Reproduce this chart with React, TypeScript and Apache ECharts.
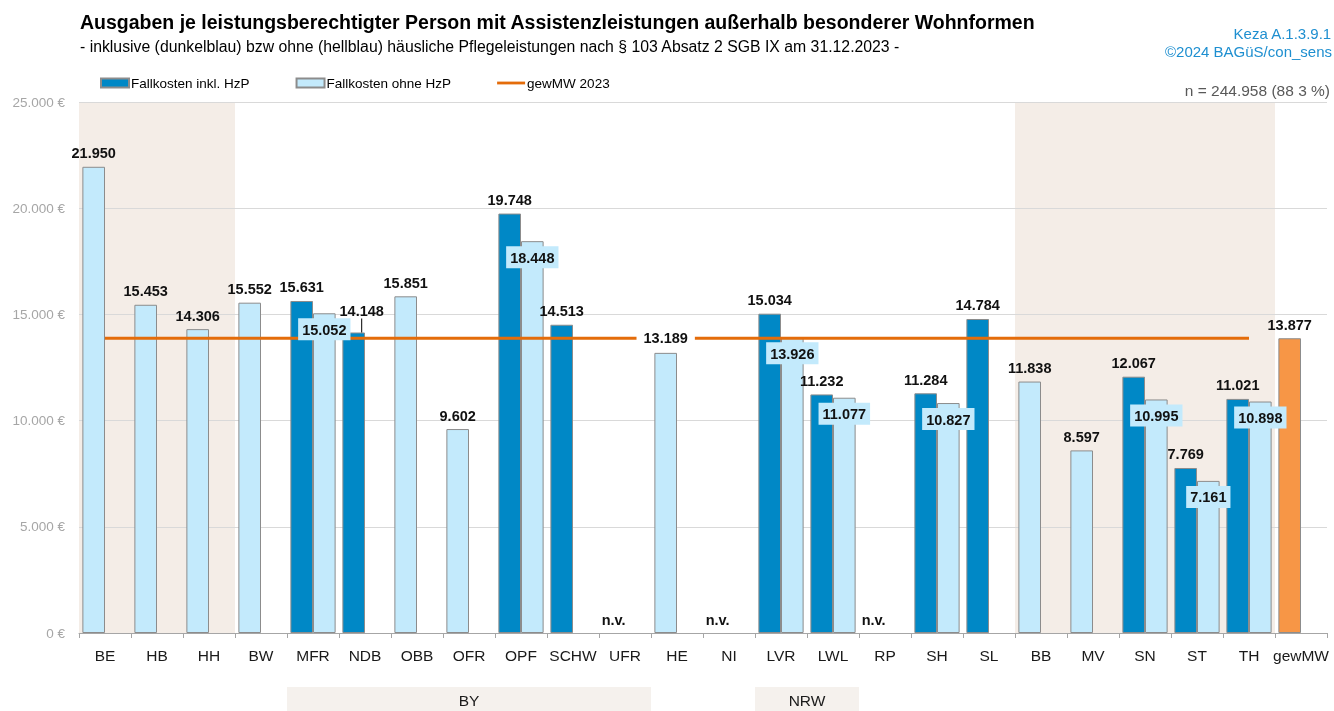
import React, { useEffect, useRef } from 'react';
import * as echarts from 'echarts';

const categories = ['BE', 'HB', 'HH', 'BW', 'MFR', 'NDB', 'OBB', 'OFR', 'OPF', 'SCHW', 'UFR', 'HE', 'NI', 'LVR', 'LWL', 'RP', 'SH', 'SL', 'BB', 'MV', 'SN', 'ST', 'TH', 'gewMW'];
const inklHzP: (number | null)[] = [null, null, null, null, 15631, 14148, null, null, 19748, 14513, null, null, null, 15034, 11232, null, 11284, 14784, null, null, 12067, 7769, 11021, null];
const ohneHzP: (number | null)[] = [21950, 15453, 14306, 15552, 15052, null, 15851, 9602, 18448, null, null, 13189, null, 13926, 11077, null, 10827, null, 11838, 8597, 10995, 7161, 10898, null];
const notAvailable = ['UFR', 'NI', 'RP'];
const averageCategory = 'gewMW';
const gewMW2023 = 13877;
const shadedCategories = ['BE', 'HB', 'HH', 'BB', 'MV', 'SN', 'ST', 'TH'];
const groupNames = ['BY', 'NRW'];
const groupMembers = [['MFR', 'NDB', 'OBB', 'OFR', 'OPF', 'SCHW', 'UFR'], ['LVR', 'LWL']];
const yMin = 0;
const yMax = 25000;
const yStep = 5000;

const FONT = '"Liberation Sans Narrow", "Arial Narrow", "Liberation Sans", Arial, sans-serif';
const DARK = '#0088c6';
const LIGHT = '#c3eafc';
const BORDER = '#8c8c8c';
const ORANGE_BAR = '#f79646';
const ORANGE_LINE = '#e46c0a';
const LABEL_SIZE = 14.5;

const fmt = (v: number) => String(v).replace(/\B(?=(\d{3})+(?!\d))/g, '.');

export default function App() {
  const ref = useRef<HTMLDivElement>(null);
  useEffect(() => {
    if (!ref.current) return;
    const chart = echarts.init(ref.current, undefined, { renderer: 'svg' });

    // bar layout: left slot = inkl. HzP, or the only available value; right slot = ohne HzP next to inkl.
    const leftSlot = categories.map((c, i) => {
      if (c === averageCategory) return { value: gewMW2023, itemStyle: { color: ORANGE_BAR } };
      if (inklHzP[i] != null) return { value: inklHzP[i] };
      if (ohneHzP[i] != null) return { value: ohneHzP[i], itemStyle: { color: LIGHT } };
      if (notAvailable.includes(c)) return { value: 0, nv: true, itemStyle: { borderWidth: 0 } };
      return null;
    });
    const rightSlot = categories.map((c, i) => (inklHzP[i] != null ? ohneHzP[i] : null));

    const leftLabels = leftSlot.map((d, i) => {
      if (d == null) return null;
      const item: any = { value: d.value, nv: (d as any).nv };
      if (categories[i] === 'HE') item.label = { backgroundColor: '#ffffff', padding: [2, 7, 1, 7] };
      if (categories[i] === 'NDB') item.labelLine = { show: true, lineStyle: { color: '#000', width: 1 } };
      return item;
    });

    const avgLine = categories.map((c) => (c === averageCategory ? null : gewMW2023));
    const shaded = categories.map((c) => (shadedCategories.includes(c) ? yMax : null));

    const groupBand = categories.map((c) => {
      const gi = groupMembers.findIndex((m) => m.includes(c));
      if (gi < 0) return null;
      const m = groupMembers[gi];
      const labelIdx = Math.floor((m.length - 1) / 2);
      if (m[labelIdx] === c) {
        return {
          value: 1,
          label: {
            show: true,
            formatter: groupNames[gi],
            position: 'inside',
            offset: [m.length % 2 === 0 ? 26 : 0, 1],
          },
        };
      }
      return 1;
    });

    const barLayout = { barGap: 0, barCategoryGap: '13%' };
    const transparent = { color: 'rgba(0,0,0,0)', borderWidth: 0 };

    const option: any = {
      animation: false,
      textStyle: { fontFamily: FONT },
      title: {
        left: 80,
        top: 12,
        padding: 0,
        text: 'Ausgaben je leistungsberechtigter Person mit Assistenzleistungen außerhalb besonderer Wohnformen',
        subtext: '- inklusive (dunkelblau) bzw ohne (hellblau) häusliche Pflegeleistungen nach § 103 Absatz 2 SGB IX am 31.12.2023 -',
        itemGap: 6,
        textStyle: { fontFamily: FONT, fontWeight: 'bold', fontSize: 19.5, color: '#000' },
        subtextStyle: { fontFamily: FONT, fontSize: 15.8, color: '#000' },
      },
      graphic: [
        {
          type: 'text',
          right: 2,
          top: 26,
          style: { text: 'Keza A.1.3.9.1', fill: '#1e8fd0', font: `15px ${FONT}` },
        },
        {
          type: 'text',
          right: 2,
          top: 44,
          style: { text: '©2024 BAGüS/con_sens', fill: '#1e8fd0', font: `15px ${FONT}` },
        },
        {
          type: 'text',
          right: 4,
          top: 82,
          style: { text: 'n = 244.958 (88 3 %)', fill: '#595959', font: `15.5px ${FONT}` },
        },
      ],
      legend: {
        left: 100,
        top: 76,
        padding: 0,
        itemWidth: 28,
        itemHeight: 9,
        itemGap: 46,
        textStyle: { fontFamily: FONT, fontSize: 13.5, color: '#000', padding: [0, 0, 0, -3] },
        data: [
          { name: 'Fallkosten inkl. HzP', icon: 'rect' },
          { name: 'Fallkosten ohne HzP', icon: 'rect' },
          { name: 'gewMW 2023', icon: 'path://M0,0L30,0L30,3L0,3Z', itemStyle: { color: ORANGE_LINE, borderWidth: 0 } },
        ],
      },
      grid: [
        { left: 79, right: 7, top: 102, bottom: 78, containLabel: false },
        { left: 79, right: 7, top: 687, bottom: 0, containLabel: false },
      ],
      xAxis: [
        {
          type: 'category',
          data: categories,
          gridIndex: 0,
          axisLine: { lineStyle: { color: '#a6a6a6', width: 1 } },
          axisTick: { show: true, length: 5, lineStyle: { color: '#a6a6a6' } },
          axisLabel: { interval: 0, fontFamily: FONT, fontSize: 15.5, color: '#1a1a1a', margin: 14 },
        },
        { type: 'category', data: categories, gridIndex: 0, show: false },
        { type: 'category', data: categories, gridIndex: 1, show: false },
        { type: 'category', data: categories, gridIndex: 0, show: false },
      ],
      yAxis: [
        {
          type: 'value',
          gridIndex: 0,
          min: yMin,
          max: yMax,
          interval: yStep,
          axisLine: { show: false },
          axisTick: { show: false },
          splitLine: { lineStyle: { color: '#d9d9d9', width: 1 } },
          axisLabel: {
            fontFamily: FONT,
            fontSize: 13.5,
            color: '#a6a6a6',
            margin: 14,
            formatter: (v: number) => `${fmt(v)} €`,
          },
        },
        { type: 'value', gridIndex: 1, min: 0, max: 1, show: false },
      ],
      series: [
        {
          name: 'Shaded',
          type: 'bar',
          xAxisIndex: 1,
          yAxisIndex: 0,
          z: -1,
          silent: true,
          barCategoryGap: 0,
          itemStyle: { color: '#f4ede7' },
          data: shaded,
        },
        {
          name: 'Fallkosten inkl. HzP',
          type: 'bar',
          xAxisIndex: 0,
          yAxisIndex: 0,
          z: 2,
          ...barLayout,
          itemStyle: { color: DARK, borderColor: BORDER, borderWidth: 1 },
          data: leftSlot,
        },
        {
          name: 'Fallkosten ohne HzP',
          type: 'bar',
          xAxisIndex: 0,
          yAxisIndex: 0,
          z: 2,
          ...barLayout,
          itemStyle: { color: LIGHT, borderColor: BORDER, borderWidth: 1 },
          data: rightSlot,
        },
        {
          name: 'gewMW 2023',
          type: 'line',
          xAxisIndex: 0,
          yAxisIndex: 0,
          z: 2,
          symbol: 'none',
          lineStyle: { color: ORANGE_LINE, width: 3 },
          itemStyle: { color: ORANGE_LINE },
          data: avgLine,
        },
        {
          name: 'labels-left',
          type: 'bar',
          xAxisIndex: 3,
          yAxisIndex: 0,
          z: 4,
          silent: true,
          ...barLayout,
          itemStyle: transparent,
          label: {
            show: true,
            position: 'top',
            distance: 6,
            fontFamily: FONT,
            fontWeight: 'bold',
            fontSize: LABEL_SIZE,
            color: '#111',
            formatter: (p: any) => (p.data && p.data.nv ? 'n.v.' : fmt(p.value)),
          },
          labelLayout: (p: any) => (categories[p.dataIndex] === 'NDB' ? { dx: 8, dy: -8 } : {}),
          data: leftLabels,
        },
        {
          name: 'labels-right',
          type: 'bar',
          xAxisIndex: 3,
          yAxisIndex: 0,
          z: 4,
          silent: true,
          ...barLayout,
          itemStyle: transparent,
          label: {
            show: true,
            position: 'insideTop',
            distance: 5,
            fontFamily: FONT,
            fontWeight: 'bold',
            fontSize: LABEL_SIZE,
            color: '#111',
            backgroundColor: LIGHT,
            padding: [4, 4, 3, 4],
            formatter: (p: any) => fmt(p.value),
          },
          data: rightSlot,
        },
        {
          name: 'Gruppen',
          type: 'bar',
          xAxisIndex: 2,
          yAxisIndex: 1,
          silent: true,
          barCategoryGap: 0,
          itemStyle: { color: '#f5f1ed' },
          label: { fontFamily: FONT, fontSize: 15.5, color: '#1a1a1a' },
          data: groupBand,
        },
      ],
    };
    chart.setOption(option);
    return () => chart.dispose();
  }, []);

  return <div ref={ref} style={{ position: 'fixed', left: 0, top: 0, width: '100vw', height: '100vh' }} />;
}
